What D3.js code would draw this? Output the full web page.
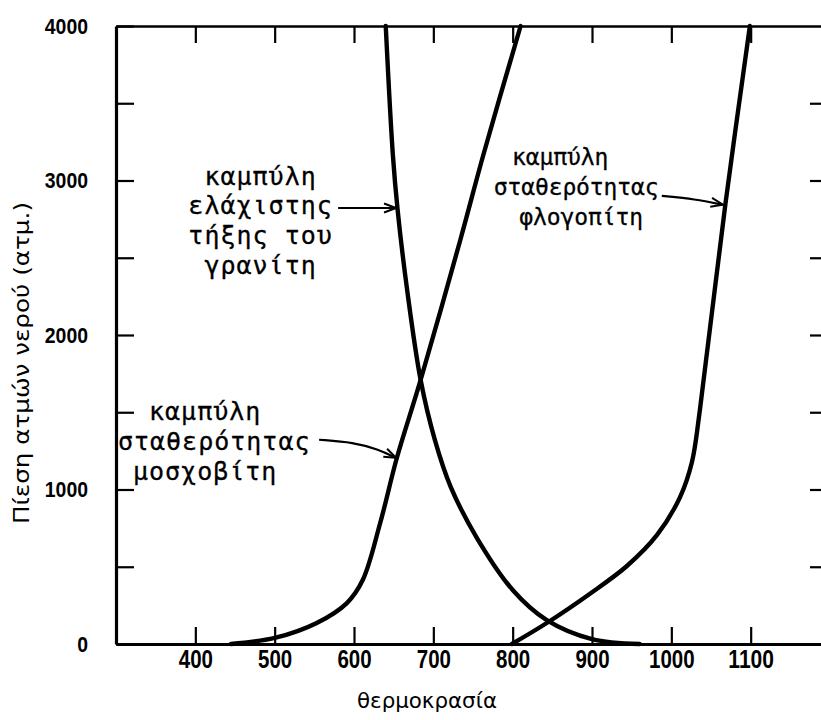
<!DOCTYPE html>
<html>
<head>
<meta charset="utf-8">
<script src="https://cdn.jsdelivr.net/npm/d3@7"></script>
<style>
  html, body { margin: 0; padding: 0; background: #ffffff; }
  svg { display: block; }
</style>
</head>
<body>
<svg id="chart" width="821" height="720"></svg>
<script>
// ---------------- DATA ----------------
const xTickValues = [400, 500, 600, 700, 800, 900, 1000, 1100];
const yTickValues = [0, 500, 1000, 1500, 2000, 2500, 3000, 3500, 4000];
const yTickLabels = [0, 1000, 2000, 3000, 4000];
const xTitle = "θερμοκρασία";
const yTitle = "Πίεση ατμών νερού (ατμ.)";

// granite minimum melting curve (temperature °C, pressure atm)
const graniteT = [640, 649, 655, 667, 684, 702, 722, 755, 800, 843, 900, 960];
const graniteP = [4000, 3165, 2809, 2291, 1709, 1320, 1016, 686, 350, 155, 32, 0];

// muscovite stability curve
const muscoviteT = [445, 500, 553, 591, 611, 633, 654, 684, 734, 763, 810];
const muscoviteP = [0, 39, 136, 265, 414, 783, 1204, 1709, 2615, 3165, 4000];

// phlogopite stability curve
const phlogopiteT = [799, 843, 897, 944, 982, 1011, 1026, 1036, 1068, 1099];
const phlogopiteP = [0, 136, 324, 505, 706, 951, 1178, 1515, 2841, 4000];

const graniteLabel = ["καμπύλη", "ελάχιστης", "τήξης του", "γρανίτη"];
const muscoviteLabel = ["καμπύλη", "σταθερότητας", "μοσχοβίτη"];
const phlogopiteLabel = ["καμπύλη", "σταθερότητας", "φλογοπίτη"];

// ---------------- DRAWING ----------------
const svg = d3.select("#chart");
svg.append("rect").attr("width", 821).attr("height", 720).attr("fill", "#ffffff");

const x = d3.scaleLinear().domain([300, 1200]).range([116, 830]);
const y = d3.scaleLinear().domain([0, 4000]).range([644, 26]);

const defs = svg.append("defs");
defs.append("marker")
  .attr("id", "arrow")
  .attr("markerUnits", "userSpaceOnUse")
  .attr("markerWidth", 16).attr("markerHeight", 12)
  .attr("refX", 13).attr("refY", 6)
  .attr("orient", "auto")
  .append("path")
  .attr("d", "M1,1.5 L13,6 L1,10.5")
  .attr("fill", "none").attr("stroke", "#000").attr("stroke-width", 2);

function styleAxis(g, width) {
  g.select(".domain").attr("stroke", "#000").attr("stroke-width", width);
  g.selectAll(".tick line").attr("stroke", "#000").attr("stroke-width", 2.2);
}

const gLeft = svg.append("g").attr("transform", `translate(${x(300)},0)`)
  .call(d3.axisLeft(y).tickValues(yTickValues)
    .tickFormat(d => yTickLabels.includes(d) ? String(d) : "")
    .tickSizeInner(-18).tickSizeOuter(0).tickPadding(28));
styleAxis(gLeft, 3.2);
gLeft.selectAll("text")
  .attr("font-family", "'Liberation Sans', Arial, sans-serif")
  .attr("font-weight", "bold")
  .attr("font-size", 22)
  .attr("fill", "#000")
  .each(function(d) {
    const s = yTickLabels.includes(d) ? String(d) : "";
    if (s.length) d3.select(this).attr("textLength", s.length * 10.8).attr("lengthAdjust", "spacingAndGlyphs");
  });

const gBottom = svg.append("g").attr("transform", `translate(0,${y(0)})`)
  .call(d3.axisBottom(x).tickValues(xTickValues)
    .tickSizeInner(-17).tickSizeOuter(0).tickPadding(6).tickFormat(d3.format("d")));
styleAxis(gBottom, 3.2);
gBottom.selectAll("text")
  .attr("font-family", "'Liberation Sans', Arial, sans-serif")
  .attr("font-weight", "bold")
  .attr("font-size", 25)
  .attr("fill", "#000")
  .each(function(d) {
    const s = String(d);
    d3.select(this).attr("textLength", s.length * 11.4).attr("lengthAdjust", "spacingAndGlyphs");
  });

const gTop = svg.append("g").attr("transform", `translate(0,${y(4000)})`)
  .call(d3.axisTop(x).tickValues(xTickValues)
    .tickSizeInner(-17).tickSizeOuter(0).tickFormat(""));
styleAxis(gTop, 2.6);

const gRight = svg.append("g").attr("transform", `translate(${x(1200)},0)`)
  .call(d3.axisRight(y).tickValues(yTickValues.filter(v => v > 0 && v < 4000))
    .tickSizeInner(-20).tickSizeOuter(0).tickFormat(""));
styleAxis(gRight, 3);

// titles
svg.append("text")
  .attr("x", 427).attr("y", 708)
  .attr("text-anchor", "middle")
  .attr("font-family", "'DejaVu Sans', sans-serif")
  .attr("font-size", 22)
  .attr("textLength", 140).attr("lengthAdjust", "spacingAndGlyphs")
  .text(xTitle);

svg.append("text")
  .attr("transform", `translate(29, 363) rotate(-90)`)
  .attr("text-anchor", "middle")
  .attr("font-family", "'DejaVu Sans', sans-serif")
  .attr("font-size", 21)
  .attr("textLength", 322).attr("lengthAdjust", "spacingAndGlyphs")
  .text(yTitle);

// curves
const line = d3.line().x(d => x(d[0])).y(d => y(d[1])).curve(d3.curveCatmullRom.alpha(0.5));
function drawCurve(T, P) {
  svg.append("path")
    .datum(T.map((t, i) => [t, P[i]]))
    .attr("d", line)
    .attr("fill", "none")
    .attr("stroke", "#000")
    .attr("stroke-width", 4.4)
    .attr("stroke-linejoin", "round")
    .attr("stroke-linecap", "round");
}
drawCurve(graniteT, graniteP);
drawCurve(muscoviteT, muscoviteP);
drawCurve(phlogopiteT, phlogopiteP);

// labels
function drawLabel(lines, anchorT, anchorP, offsets, size, spacing, lineH) {
  const g = svg.append("g");
  lines.forEach((s, i) => {
    g.append("text")
      .attr("x", x(anchorT) + offsets[i])
      .attr("y", y(anchorP) + i * lineH)
      .attr("dy", "0.3em")
      .attr("text-anchor", "middle")
      .attr("font-family", "'DejaVu Sans Mono', monospace")
      .attr("font-size", size)
      .attr("letter-spacing", spacing)
      .attr("fill", "#000")
      .attr("stroke", "#000")
      .attr("stroke-width", 0.3)
      .text(s);
  });
}
drawLabel(graniteLabel, 481, (644 - 177) / 0.1545, [1, 1, 1, 1], 25, 1.0, 29.7);
drawLabel(muscoviteLabel, 420, (644 - 412) / 0.1545, [-6, 3, -6], 25, 1.0, 30);
drawLabel(phlogopiteLabel, 880, (644 - 158) / 0.1545, [-16, 0, 5], 23, -0.1, 30);

// arrows
const arrowLine = d3.line().x(d => x(d[0])).y(d => y(d[1])).curve(d3.curveBasis);
function drawArrow(pts) {
  svg.append("path")
    .attr("d", arrowLine(pts))
    .attr("fill", "none")
    .attr("stroke", "#000")
    .attr("stroke-width", 2.2)
    .attr("marker-end", "url(#arrow)");
}
drawArrow([[580, 2822], [620, 2822], [653, 2822]]);
drawArrow([[556, 1322], [600, 1305], [630, 1260], [653, 1205]]);
drawArrow([[988, 2900], [1030, 2880], [1065, 2843]]);
</script>
</body>
</html>
